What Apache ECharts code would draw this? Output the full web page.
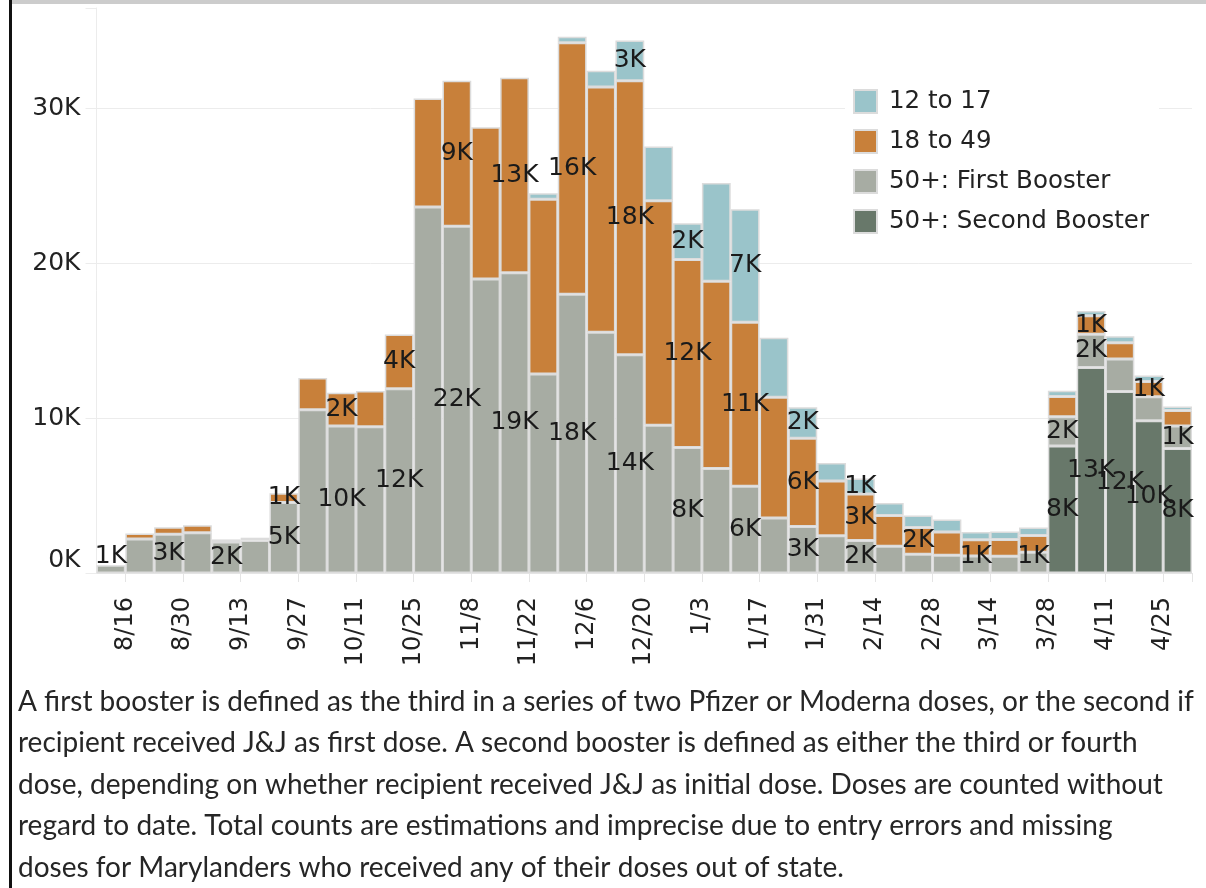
<!DOCTYPE html>
<html>
<head>
<meta charset="utf-8">
<title>Booster doses by week</title>
<script src="https://cdn.jsdelivr.net/npm/echarts@6/dist/echarts.min.js"></script>
<style>
  html, body { margin: 0; padding: 0; background: #fff; }
  #main { width: 1206px; height: 888px; }
</style>
</head>
<body>
<div id="main"></div>
<script>
// weekly bars, values in thousands of doses
var weeks = ['8/9', '8/16', '8/23', '8/30', '9/6', '9/13', '9/20', '9/27', '10/4', '10/11',
  '10/18', '10/25', '11/1', '11/8', '11/15', '11/22', '11/29', '12/6', '12/13', '12/20',
  '12/27', '1/3', '1/10', '1/17', '1/24', '1/31', '2/7', '2/14', '2/21', '2/28',
  '3/7', '3/14', '3/21', '3/28', '4/4', '4/11', '4/18', '4/25'];

var tickLabels = ['8/16', '8/30', '9/13', '9/27', '10/11', '10/25', '11/8', '11/22', '12/6', '12/20',
  '1/3', '1/17', '1/31', '2/14', '2/28', '3/14', '3/28', '4/11', '4/25'];

var teen = [0, 0, 0, 0, 0, 0, 0, 0, 0, 0,
  0, 0, 0, 0, 0, 0.38, 0.4, 1.05, 2.6, 3.5,
  2.35, 6.35, 7.3, 3.85, 2.0, 1.15, 1.0, 0.82, 0.77, 0.8,
  0.5, 0.52, 0.52, 0.38, 0.3, 0.43, 0.39, 0.26];

var adult = [0, 0.35, 0.45, 0.48, 0.17, 0.18, 0.6, 2.05, 2.15, 2.3,
  3.5, 7.0, 9.4, 9.8, 12.6, 11.3, 16.25, 15.85, 17.7, 14.5,
  12.15, 12.1, 10.6, 7.8, 5.7, 3.55, 3.0, 1.98, 1.73, 1.5,
  1.05, 1.08, 1.08, 1.3, 1.2, 1.04, 0.99, 0.99];

var firstBooster = [0.5, 2.2, 2.5, 2.6, 2.0, 2.1, 4.55, 10.55, 9.5, 9.45,
  11.9, 23.65, 22.4, 19.0, 19.4, 12.85, 18.0, 15.55, 14.1, 9.55,
  8.1, 6.75, 5.6, 3.55, 3.0, 2.4, 2.1, 1.73, 1.21, 1.15,
  1.1, 1.08, 1.34, 1.9, 2.15, 2.11, 1.55, 1.45];

var secondBooster = [0, 0, 0, 0, 0, 0, 0, 0, 0, 0,
  0, 0, 0, 0, 0, 0, 0, 0, 0, 0,
  0, 0, 0, 0, 0, 0, 0, 0, 0, 0,
  0, 0, 0, 8.2, 13.27, 11.72, 9.83, 8.05];

// which bars carry a value label, per series
var teenLabelAt = [18, 20, 22, 24, 26];
var adultLabelAt = [6, 8, 10, 12, 14, 16, 18, 20, 22, 24, 26, 28, 34, 36];
var firstLabelAt = [0, 2, 4, 6, 8, 10, 12, 14, 16, 18, 20, 22, 24, 26, 30, 32, 33, 34, 37];
var secondLabelAt = [33, 34, 35, 36, 37];

var caption = [
  'A first booster is defined as the third in a series of two Pfizer or Moderna doses, or the second if',
  'recipient received J&J as first dose. A second booster is defined as either the third or fourth',
  'dose, depending on whether recipient received J&J as initial dose. Doses are counted without',
  'regard to date. Total counts are estimations and imprecise due to entry errors and missing',
  'doses for Marylanders who received any of their doses out of state.'
];

var font = '"DejaVu Sans", Verdana, sans-serif';

// short segments near the axis get their label lifted to stay in the pane
function makeSeries(name, values, labelAt, color, liftAt) {
  liftAt = liftAt || [];
  return {
    name: name,
    type: 'bar',
    stack: 'total',
    barCategoryGap: '0%',
    data: values.map(function (v, i) {
      if (!v) return '-';
      var lbl = { show: labelAt.indexOf(i) >= 0 };
      if (liftAt.indexOf(i) >= 0) {
        lbl.position = 'insideBottom';
        lbl.distance = 4;
      }
      return { value: v, label: lbl };
    }),
    itemStyle: { color: color, borderColor: '#dcdcdc', borderWidth: 1.5 },
    label: {
      show: false,
      position: 'inside',
      formatter: function (p) { return Math.round(p.value) + 'K'; },
      fontSize: 25,
      fontFamily: font,
      color: '#1a1a1a',
      textBorderWidth: 0
    },
    emphasis: { disabled: true }
  };
}

var option = {
  animation: false,
  grid: { left: 96.5, right: 14, top: 8, bottom: 315 },
  legend: {
    data: ['12 to 17', '18 to 49', '50+: First Booster', '50+: Second Booster'],
    orient: 'vertical',
    left: 845,
    top: 85,
    itemWidth: 23,
    itemHeight: 23,
    itemGap: 15,
    icon: 'rect',
    selectedMode: false,
    backgroundColor: '#fff',
    padding: [4, 10, 4, 8],
    textStyle: { fontSize: 24.5, lineHeight: 25, color: '#222', fontFamily: font, padding: [0, 0, 0, 7] }
  },
  xAxis: [
    {
      type: 'category',
      data: weeks,
      axisLine: { lineStyle: { color: '#e4e4e4' } },
      axisTick: {
        show: true,
        length: 9,
        interval: function (i) { return i % 2 === 1; },
        lineStyle: { color: '#e4e4e4' }
      },
      axisLabel: { show: false }
    },
    {
      type: 'value',
      min: 0,
      max: weeks.length,
      interval: 1,
      position: 'bottom',
      axisLine: { show: false },
      axisTick: { show: false },
      splitLine: { show: false },
      axisLabel: {
        rotate: 90,
        margin: 24,
        fontSize: 24,
        fontFamily: font,
        color: '#222',
        formatter: function (v) {
          return v % 2 === 1 ? tickLabels[(v - 1) / 2] : '';
        }
      }
    }
  ],
  yAxis: {
    type: 'value',
    min: 0,
    max: 36.5,
    interval: 10,
    axisLine: { show: true, lineStyle: { color: '#ececec' } },
    axisTick: { show: true, length: 11, lineStyle: { color: '#ececec' } },
    splitLine: { lineStyle: { color: '#ececec' }, showMaxLine: false },
    axisLabel: {
      margin: 16,
      fontSize: 25,
      fontFamily: font,
      color: '#222',
      verticalAlignMinLabel: 'bottom',
      formatter: function (v) { return v % 10 === 0 ? v + 'K' : ''; }
    }
  },
  series: [
    makeSeries('50+: Second Booster', secondBooster, secondLabelAt, '#68786a'),
    makeSeries('50+: First Booster', firstBooster, firstLabelAt, '#a7aca3', [0, 30, 32]),
    makeSeries('18 to 49', adult, adultLabelAt, '#c8803a'),
    makeSeries('12 to 17', teen, teenLabelAt, '#9ac4ca')
  ],
  graphic: [
    { type: 'rect', shape: { x: 10, y: 0, width: 1196, height: 4 }, style: { fill: '#cccccc' } },
    { type: 'rect', shape: { x: 9, y: 0, width: 3, height: 888 }, style: { fill: '#111' } },
    {
      type: 'text',
      x: 18,
      y: 681,
      style: {
        text: caption.join('\n'),
        font: '28px Lato, "Open Sans", sans-serif',
        lineHeight: 41.5,
        fill: '#262626',
        verticalAlign: 'top'
      }
    }
  ]
};

var myChart = echarts.init(document.getElementById('main'));
myChart.setOption(option);
</script>
</body>
</html>
